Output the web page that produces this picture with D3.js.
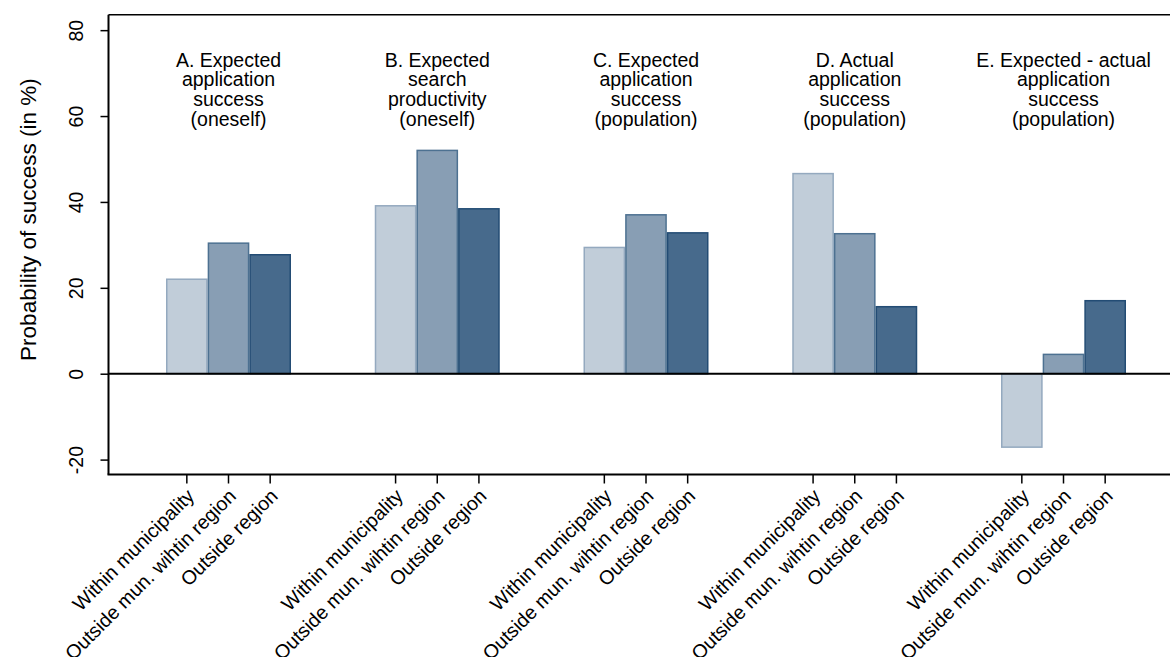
<!DOCTYPE html>
<html>
<head>
<meta charset="utf-8">
<script src="https://cdn.jsdelivr.net/npm/d3@7"></script>
<style>
  html, body { margin: 0; padding: 0; background: #fff; }
  svg { display: block; font-family: "Liberation Sans", Arial, sans-serif; }
</style>
</head>
<body>
<svg id="chart" width="1170" height="657"></svg>
<script>
// ---- data ----
const groups = ["A", "B", "C", "D", "E"];
const groupTitles = [
  ["A. Expected", "application", "success", "(oneself)"],
  ["B. Expected", "search", "productivity", "(oneself)"],
  ["C. Expected", "application", "success", "(population)"],
  ["D. Actual", "application", "success", "(population)"],
  ["E. Expected - actual", "application", "success", "(population)"]
];
const categories = ["Within municipality", "Outside mun. wihtin region", "Outside region"];
const withinMunicipality = [22.0, 39.1, 29.4, 46.6, -17.1];
const outsideMunWithinRegion = [30.4, 52.0, 37.0, 32.6, 4.5];
const outsideRegion = [27.7, 38.4, 32.8, 15.6, 17.0];
const yTicks = [-20, 0, 20, 40, 60, 80];
const yTitle = "Probability of success (in %)";

(function () {
const series = [withinMunicipality, outsideMunWithinRegion, outsideRegion];
const fills = ["#c1cdd9", "#889eb4", "#476a8c"];
const strokes = ["#94a9bf", "#4d7191", "#234c74"];

// ---- layout ----
const svg = d3.select("#chart");
const pLeft = 108.5, pRight = 1170, pTop = 14.7, pBottom = 474.5;

const y = d3.scaleLinear().domain([-23.47, 83.6]).range([pBottom, pTop]);
const xGroup = d3.scalePoint().domain(groups).range([228.5, 1063.5]);
const xSub = d3.scaleBand().domain(categories).range([-62.5, 62.5]).padding(0);

// bars
const data = [];
groups.forEach((g, gi) => {
  categories.forEach((c, ci) => {
    data.push({ g, c, ci, v: series[ci][gi] });
  });
});

svg.append("g").selectAll("rect").data(data).join("rect")
  .attr("x", d => xGroup(d.g) + xSub(d.c) + 0.75)
  .attr("width", xSub.bandwidth() - 1.5)
  .attr("y", d => y(Math.max(0, d.v)))
  .attr("height", d => Math.abs(y(d.v) - y(0)))
  .attr("fill", d => fills[d.ci])
  .attr("stroke", d => strokes[d.ci])
  .attr("stroke-width", 1.5);

// zero line
svg.append("line")
  .attr("x1", pLeft).attr("x2", pRight)
  .attr("y1", y(0)).attr("y2", y(0))
  .attr("stroke", "#000").attr("stroke-width", 2);

// frame: top line
svg.append("line")
  .attr("x1", pLeft).attr("x2", pRight)
  .attr("y1", pTop).attr("y2", pTop)
  .attr("stroke", "#000").attr("stroke-width", 1.5);

// y axis
const yAxis = d3.axisLeft(y).tickValues(yTicks).tickSize(8).tickSizeOuter(0).tickFormat(d => String(d));
const gy = svg.append("g").attr("transform", `translate(${pLeft},0)`).call(yAxis);
gy.select(".domain").attr("stroke", "#000").attr("stroke-width", 2)
  .attr("d", `M0,${pTop}V${pBottom}`);
gy.selectAll(".tick line").attr("stroke", "#000").attr("stroke-width", 1.5);
gy.selectAll(".tick text")
  .attr("x", 0).attr("y", 0)
  .attr("transform", "translate(-26,0) rotate(-90)")
  .attr("text-anchor", "middle")
  .attr("dy", 0)
  .attr("font-size", "19.5px")
  .attr("fill", "#000");

// y title
svg.append("text")
  .attr("transform", `translate(36,${(pTop + pBottom) / 2 - 25}) rotate(-90)`)
  .attr("text-anchor", "middle")
  .attr("font-size", "22.5px")
  .attr("fill", "#000")
  .text(yTitle);

// x axis
const ticks = [];
groups.forEach(g => categories.forEach(c => ticks.push({ g, c })));
const gx = svg.append("g");
gx.append("line")
  .attr("x1", pLeft - 1).attr("x2", pRight)
  .attr("y1", pBottom).attr("y2", pBottom)
  .attr("stroke", "#000").attr("stroke-width", 2);
const tk = gx.selectAll("g.tk").data(ticks).join("g")
  .attr("class", "tk")
  .attr("transform", d => `translate(${xGroup(d.g) + xSub(d.c) + xSub.bandwidth() / 2},${pBottom})`);
tk.append("line").attr("y1", 0).attr("y2", 9).attr("stroke", "#000").attr("stroke-width", 1.5);
tk.append("text")
  .attr("transform", "translate(-1,13) rotate(-45)")
  .attr("text-anchor", "end")
  .attr("dy", "0.7em")
  .attr("font-size", "19.6px")
  .attr("fill", "#000")
  .text(d => d.c);

// group titles
const gt = svg.append("g").selectAll("text").data(groups).join("text")
  .attr("text-anchor", "middle")
  .attr("font-size", "19.5px")
  .attr("fill", "#000");
gt.each(function (g, i) {
  const t = d3.select(this);
  groupTitles[i].forEach((line, li) => {
    t.append("tspan")
      .attr("x", xGroup(g))
      .attr("y", 66.5 + li * 19.8)
      .text(line);
  });
});
})();
</script>
</body>
</html>
